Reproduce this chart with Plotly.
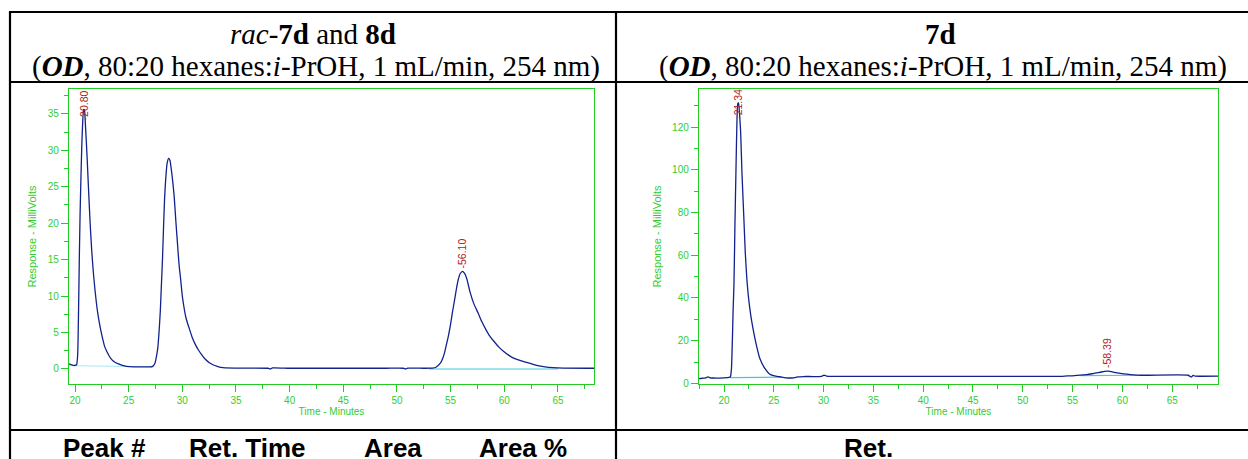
import plotly.graph_objects as go

W, H = 1248, 459

# ---------------- data ----------------
# Left chromatogram: rac-7d and 8d
left_time = [19.44, 19.7, 20.0, 20.15, 20.25, 20.33, 20.40, 20.47, 20.55, 20.63, 20.72, 20.80, 20.88,
             20.97, 21.06, 21.15, 21.25, 21.40, 21.55, 21.70, 21.85, 22.03, 22.2, 22.39, 22.57, 22.76,
             23.0, 23.31, 23.65, 24.05, 24.4, 24.79, 25.5, 26.5, 27.2, 27.45, 27.6, 27.73, 27.85, 27.95,
             28.05, 28.15, 28.25, 28.35, 28.45, 28.58, 28.72, 28.85, 28.98, 29.1, 29.25, 29.4, 29.53,
             29.69, 29.85, 30.0, 30.15, 30.31, 30.5, 30.68, 30.95, 31.23, 31.5, 31.78, 32.1, 32.52, 32.9,
             33.25, 33.6, 34.0, 35.0, 38.0, 38.2, 38.4, 40.0, 43.0, 46.0, 49.0, 50.6, 50.8, 51.0, 52.5,
             53.3, 53.6, 54.06, 54.25, 54.43, 54.6, 54.79, 54.98, 55.16, 55.35, 55.53, 55.7, 55.9, 56.1,
             56.3, 56.5, 56.82, 57.15, 57.55, 57.9, 58.29, 58.65, 59.03, 59.5, 59.95, 60.4, 60.87, 61.6,
             62.34, 63.0, 63.8, 64.5, 65.5, 68.36]
left_mv = [0.70, 0.55, 0.48, 0.6, 2.0, 8.0, 15.0, 21.0, 26.0, 30.5, 34.0, 35.6, 35.5,
           33.5, 31.0, 28.3, 25.0, 20.3, 16.4, 13.4, 11.0, 8.6, 6.9, 5.4, 4.2, 3.1,
           2.3, 1.5, 1.0, 0.7, 0.5, 0.37, 0.3, 0.3, 0.32, 0.8, 1.8, 3.1, 5.5, 8.0,
           11.5, 15.0, 19.5, 23.5, 26.0, 28.2, 28.9, 28.6, 27.3, 25.8, 23.5, 20.2, 17.6,
           14.4, 12.2, 10.0, 8.5, 7.2, 6.2, 5.4, 4.2, 3.3, 2.6, 2.0, 1.4, 0.85, 0.55,
           0.37, 0.22, 0.14, 0.12, 0.1, 0.0, 0.15, 0.1, 0.1, 0.1, 0.1, 0.1, 0.0, 0.12, 0.1,
           0.12, 0.2, 0.83, 1.4, 2.2, 3.3, 4.5, 6.0, 7.7, 9.3, 10.9, 12.2, 13.1, 13.4,
           13.1, 12.4, 10.5, 9.0, 7.7, 6.5, 5.4, 4.5, 3.8, 3.0, 2.4, 1.9, 1.5, 1.1,
           0.8, 0.5, 0.28, 0.18, 0.12, 0.1]

# integration baselines (left)
left_base1_time = [19.44, 27.4]
left_base1_mv = [0.45, 0.3]
left_base2_time = [53.0, 65.0]
left_base2_mv = [0.0, 0.0]

left_peak_times = [20.80, 56.10]
left_peak_labels = ["-20.80", "-56.10"]
left_label_mv = [33.9, 13.7]

# Right chromatogram: 7d
right_time = [17.49, 17.8, 18.1, 18.4, 18.6, 19.0, 20.0, 20.5, 20.65, 20.75, 20.84, 20.92, 21.0,
              21.1, 21.2, 21.3, 21.38, 21.46, 21.55, 21.67, 21.8, 21.98, 22.14, 22.3, 22.5, 22.7,
              22.9, 23.2, 23.6, 24.1, 24.6, 25.2, 25.6, 25.8, 26.2, 27.0, 27.4, 28.0, 29.8, 30.05,
              30.3, 35.0, 50.0, 53.8, 54.5, 55.0, 55.76, 56.4, 56.96, 57.4, 57.77, 58.2, 58.57,
              59.0, 59.37, 59.8, 60.18, 60.8, 61.38, 62.59, 66.6, 66.9, 67.1, 67.3, 69.6]
right_mv = [2.2, 2.4, 2.5, 3.0, 2.6, 2.5, 2.6, 2.8, 3.2, 7.0, 20.0, 35.0, 46.5,
            74.6, 99.5, 122.8, 131.0, 131.4, 127.0, 118.0, 99.0, 79.0, 61.0, 48.5, 38.5, 31.5,
            26.0, 19.0, 11.6, 7.0, 4.3, 3.4, 3.1, 2.9, 2.6, 2.6, 3.0, 3.2, 3.3, 3.9,
            3.4, 3.3, 3.3, 3.3, 3.5, 3.5, 3.9, 4.1, 4.5, 4.9, 5.2, 5.6, 5.7,
            5.4, 5.0, 4.7, 4.4, 4.1, 3.9, 3.8, 3.8, 3.0, 3.7, 3.4, 3.4]

right_base1_time = [20.6, 25.8]
right_base1_mv = [2.7, 2.9]
right_base2_time = [55.8, 61.5]
right_base2_mv = [3.6, 3.8]

right_peak_times = [21.34, 58.39]
right_peak_labels = ["-21.34", "-58.39"]
right_label_mv = [123.6, 6.9]

x_tick_labels = ["20", "25", "30", "35", "40", "45", "50", "55", "60", "65"]
x_tick_vals = [20, 25, 30, 35, 40, 45, 50, 55, 60, 65]

# ---------------- styling ----------------
GREEN = "#22cc22"
TXTGREEN = "#33cc33"
TRACE = "#12228c"
CYAN = "#40c8e0"
PALECYAN = "#a8e8f2"
RED = "#b22222"


def px(x):
    return x / W


def py(y):
    return 1 - y / H


fig = go.Figure()

spl = dict(shape="spline", smoothing=0.5)

fig.add_trace(go.Scatter(x=left_base1_time, y=left_base1_mv, mode="lines",
                         line=dict(color=PALECYAN, width=1), xaxis="x", yaxis="y", showlegend=False))
fig.add_trace(go.Scatter(x=left_base2_time, y=left_base2_mv, mode="lines",
                         line=dict(color=CYAN, width=1.2), xaxis="x", yaxis="y", showlegend=False))
fig.add_trace(go.Scatter(x=left_time, y=left_mv, mode="lines",
                         line=dict(color=TRACE, width=1.3, **spl), xaxis="x", yaxis="y", showlegend=False))

fig.add_trace(go.Scatter(x=right_base1_time, y=right_base1_mv, mode="lines",
                         line=dict(color=CYAN, width=1.2), xaxis="x2", yaxis="y2", showlegend=False))
fig.add_trace(go.Scatter(x=right_base2_time, y=right_base2_mv, mode="lines",
                         line=dict(color=CYAN, width=1.2), xaxis="x2", yaxis="y2", showlegend=False))
fig.add_trace(go.Scatter(x=right_time, y=right_mv, mode="lines",
                         line=dict(color=TRACE, width=1.3, **spl), xaxis="x2", yaxis="y2", showlegend=False))

tickfont = dict(family="Liberation Sans, Arial, sans-serif", size=10, color=TXTGREEN)
xtitlefont = dict(family="Liberation Sans, Arial, sans-serif", size=10, color=TXTGREEN)
ytitlefont = dict(family="Liberation Sans, Arial, sans-serif", size=11, color=TXTGREEN)


def xaxis_cfg(domain, rng, anchor):
    return dict(domain=domain, range=rng, anchor=anchor,
                tickmode="array", tickvals=x_tick_vals, ticktext=x_tick_labels,
                ticks="outside", ticklen=7, tickwidth=1, tickcolor=GREEN,
                minor=dict(dtick=2.5, tick0=0, ticks="outside", ticklen=4, tickcolor=GREEN, tickwidth=1),
                showline=True, mirror=True, linecolor=GREEN, linewidth=1.2,
                showgrid=False, zeroline=False, tickfont=tickfont,
                title=dict(text="Time - Minutes", font=xtitlefont, standoff=2),
                automargin=False, fixedrange=True)


def yaxis_cfg(domain, rng, anchor, dtick, minor_dtick):
    return dict(domain=domain, range=rng, anchor=anchor,
                tickmode="linear", tick0=0, dtick=dtick,
                ticks="outside", ticklen=7, tickwidth=1, tickcolor=GREEN,
                minor=dict(dtick=minor_dtick, ticks="outside", ticklen=4, tickcolor=GREEN, tickwidth=1),
                showline=True, mirror=True, linecolor=GREEN, linewidth=1.2,
                showgrid=False, zeroline=False, tickfont=tickfont,
                title=dict(text="Response - MilliVolts", font=ytitlefont, standoff=8),
                automargin=False, fixedrange=True)


ydom = [py(384), py(89)]
fig.update_layout(
    width=W, height=H, margin=dict(l=0, r=0, t=0, b=0),
    paper_bgcolor="white", plot_bgcolor="white", showlegend=False,
    xaxis=xaxis_cfg([px(69), px(594)], [19.44, 68.36], "y"),
    yaxis=yaxis_cfg(ydom, [-2.06, 38.4], "x", 5, 2.5),
    xaxis2=xaxis_cfg([px(699), px(1218)], [17.49, 69.6], "y2"),
    yaxis2=yaxis_cfg(ydom, [-0.3, 137.9], "x2", 20, 10),
)

# table lines
lw = 2.2
shapes = []
for yy in [12, 82, 430]:
    shapes.append(dict(type="line", xref="paper", yref="paper", x0=px(9), x1=1.0, y0=py(yy), y1=py(yy),
                       line=dict(color="black", width=lw)))
for xx in [10, 616]:
    shapes.append(dict(type="line", xref="paper", yref="paper", x0=px(xx), x1=px(xx), y0=py(11), y1=0.0,
                       line=dict(color="black", width=lw)))
fig.update_layout(shapes=shapes)

annotations = []
serif = "Liberation Serif, Times New Roman, serif"
sans = "Liberation Sans, Arial, sans-serif"
cond = "(<b><i>OD</i></b>, 80:20 hexanes:<i>i</i>-PrOH, 1 mL/min, 254 nm)"
for cx, t1 in [(313, "<i>rac</i>-<b>7d</b> and <b>8d</b>"), (940, "<b>7d</b>")]:
    annotations.append(dict(xref="paper", yref="paper", x=px(cx), y=py(34), text=t1, showarrow=False,
                            xanchor="center", yanchor="middle", borderpad=0,
                            font=dict(family=serif, size=29, color="black")))
    annotations.append(dict(xref="paper", yref="paper", x=px(cx + 3), y=py(67), text=cond, showarrow=False,
                            xanchor="center", yanchor="middle", borderpad=0,
                            font=dict(family=serif, size=29, color="black")))

for cx, t in [(104, "Peak #"), (248, "Ret. Time"), (393, "Area"), (523, "Area %"), (868, "Ret.")]:
    annotations.append(dict(xref="paper", yref="paper", x=px(cx), y=py(448), text="<b>%s</b>" % t,
                            showarrow=False, xanchor="center", yanchor="middle", borderpad=0,
                            font=dict(family=sans, size=26, color="black")))

for xr, yr, times, labels, vals in [("x", "y", left_peak_times, left_peak_labels, left_label_mv),
                                     ("x2", "y2", right_peak_times, right_peak_labels, right_label_mv)]:
    for t, lab, v in zip(times, labels, vals):
        annotations.append(dict(xref=xr, yref=yr, x=t, y=v, text=lab, showarrow=False, textangle=-90,
                                xanchor="center", yanchor="bottom", borderpad=0,
                                font=dict(family=sans, size=10.5, color=RED)))

fig.update_layout(annotations=annotations)

fig.write_html("out.html", config={"displayModeBar": False, "staticPlot": True})
